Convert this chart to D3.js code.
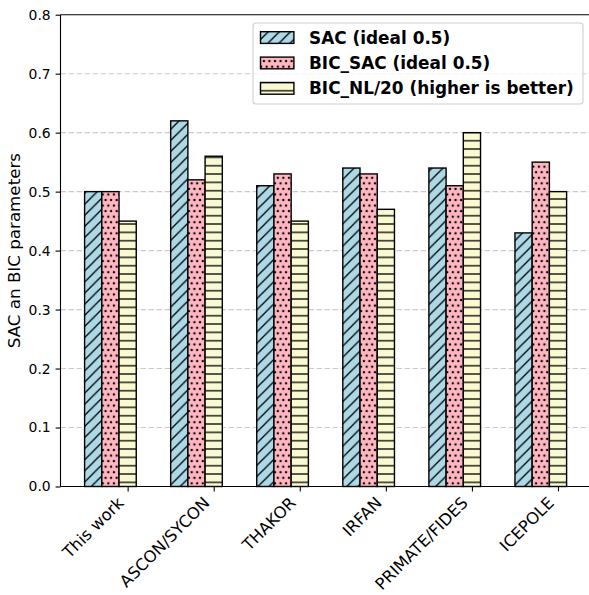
<!DOCTYPE html>
<html>
<head>
<meta charset="utf-8">
<script src="https://cdn.jsdelivr.net/npm/d3@7"></script>
<style>
  html, body { margin: 0; padding: 0; background: #fff; }
  svg { display: block; font-family: "DejaVu Sans", sans-serif; }
</style>
</head>
<body>
<svg id="chart" width="589" height="595"></svg>
<script>
// Schemes compared
const categories = ["This work", "ASCON/SYCON", "THAKOR", "IRFAN", "PRIMATE/FIDES", "ICEPOLE"];

// Metric series
const sacValues    = [0.50, 0.62, 0.51, 0.54, 0.54, 0.43];
const bicSacValues = [0.50, 0.52, 0.53, 0.53, 0.51, 0.55];
const bicNlValues  = [0.45, 0.56, 0.45, 0.47, 0.60, 0.50];

const seriesNames = ["SAC (ideal 0.5)", "BIC_SAC (ideal 0.5)", "BIC_NL/20 (higher is better)"];
const yTicks = [0.0, 0.1, 0.2, 0.3, 0.4, 0.5, 0.6, 0.7, 0.8];
const yLabel = "SAC an BIC parameters";

const series = [
  { name: seriesNames[0], values: sacValues,    fill: "#add8e6", pattern: "hatch-diag" },
  { name: seriesNames[1], values: bicSacValues, fill: "#ffb6c1", pattern: "hatch-dots" },
  { name: seriesNames[2], values: bicNlValues,  fill: "#fafad2", pattern: "hatch-horiz" }
];

const svg = d3.select("#chart");
const plotLeft = 60.5, plotRight = 590.7, plotTop = 14.7, plotBottom = 486.5;
const barW = 0.2;

const x = d3.scaleLinear().domain([-0.58, 5.58]).range([plotLeft, plotRight]);
const y = d3.scaleLinear().domain([0, 0.8]).range([plotBottom, plotTop]);

// Hatch patterns: "///", "...", "--"
const defs = svg.append("defs");
function makePattern(id, fill, w, h, drawFn) {
  const p = defs.append("pattern")
    .attr("id", id)
    .attr("patternUnits", "userSpaceOnUse")
    .attr("width", w).attr("height", h);
  p.append("rect").attr("width", w).attr("height", h).attr("fill", fill);
  drawFn(p, w, h);
}
const diagCell = 100 / 9;
makePattern("hatch-diag", series[0].fill, diagCell, diagCell, (p, w, h) => {
  [[-w, h, w, -h], [0, h, w, 0], [0, 2 * h, 2 * w, 0]].forEach(s => p.append("line")
    .attr("x1", s[0]).attr("y1", s[1]).attr("x2", s[2]).attr("y2", s[3])
    .attr("stroke", "#000").attr("stroke-width", 1.3));
});
const dotCell = 100 / 18;
makePattern("hatch-dots", series[1].fill, dotCell, 2 * dotCell, (p, w, h) => {
  [[0, 0], [w, 0], [0, h], [w, h], [w / 2, h / 2]].forEach(d => p.append("circle")
    .attr("cx", d[0]).attr("cy", d[1]).attr("r", 1.2).attr("fill", "#000"));
});
const lineCell = 100 / 12;
makePattern("hatch-horiz", series[2].fill, lineCell, lineCell, (p, w, h) => {
  p.append("line").attr("x1", 0).attr("x2", w).attr("y1", 7.37).attr("y2", 7.37)
    .attr("stroke", "#000").attr("stroke-width", 1.3);
});

// Grid lines
svg.append("g").selectAll("line")
  .data(yTicks.filter(t => t > 0 && t < 0.8))
  .join("line")
  .attr("x1", plotLeft).attr("x2", 589)
  .attr("y1", d => y(d)).attr("y2", d => y(d))
  .attr("stroke", "#cccccc").attr("stroke-width", 1.1)
  .attr("stroke-dasharray", "5.5,2.5");

// Bars
series.forEach((s, j) => {
  svg.append("g").selectAll("rect")
    .data(s.values)
    .join("rect")
    .attr("x", (d, i) => x(i + (j - 1) * barW - barW / 2))
    .attr("width", x(barW) - x(0))
    .attr("y", d => y(d))
    .attr("height", d => y(0) - y(d))
    .attr("fill", `url(#${s.pattern})`)
    .attr("stroke", "#000").attr("stroke-width", 1.4);
});

// Axes
const xAxis = d3.axisBottom(x)
  .tickValues(categories.map((c, i) => i + barW))
  .tickFormat("")
  .tickSize(4.9);
const gx = svg.append("g").attr("transform", `translate(0,${plotBottom})`).call(xAxis);
gx.select(".domain").remove();
gx.selectAll(".tick line").attr("stroke", "#000").attr("stroke-width", 1.1);

svg.append("g").selectAll("text")
  .data(categories)
  .join("text")
  .attr("transform", (d, i) => `translate(${x(i + barW) - 3},${504}) rotate(-45)`)
  .attr("text-anchor", "end")
  .attr("font-size", 16.3)
  .attr("fill", "#000")
  .text(d => d);

const yAxis = d3.axisLeft(y)
  .tickValues(yTicks)
  .tickFormat(d3.format(".1f"))
  .tickSize(4.9)
  .tickPadding(4.9);
const gy = svg.append("g").attr("transform", `translate(${plotLeft},0)`).call(yAxis);
gy.select(".domain").remove();
gy.selectAll(".tick line").attr("stroke", "#000").attr("stroke-width", 1.1);
gy.selectAll(".tick text").attr("font-size", 13.9).attr("fill", "#000")
  .attr("font-family", "DejaVu Sans, sans-serif");

// Spines (the right one falls just past the edge of the canvas)
const spine = svg.append("g").attr("stroke", "#000").attr("stroke-width", 1.1);
spine.append("line").attr("x1", plotLeft).attr("x2", plotLeft).attr("y1", plotTop).attr("y2", plotBottom);
spine.append("line").attr("x1", plotLeft).attr("x2", plotRight).attr("y1", plotBottom).attr("y2", plotBottom);
spine.append("line").attr("x1", plotLeft).attr("x2", plotRight).attr("y1", plotTop).attr("y2", plotTop);

// Y axis title
svg.append("text")
  .attr("transform", `translate(20,${(plotTop + plotBottom) / 2}) rotate(-90)`)
  .attr("text-anchor", "middle")
  .attr("font-size", 16.7)
  .attr("fill", "#000")
  .text(yLabel);

// Legend
const lg = svg.append("g");
lg.append("rect")
  .attr("x", 253).attr("y", 23).attr("width", 330).attr("height", 81)
  .attr("rx", 3).attr("ry", 3)
  .attr("fill", "#fff").attr("fill-opacity", 0.8)
  .attr("stroke", "#d0d0d0").attr("stroke-width", 1.1);
series.forEach((s, j) => {
  const cy = 37.5 + j * 25.4;
  lg.append("rect")
    .attr("x", 260.5).attr("y", cy - 5.8).attr("width", 33.4).attr("height", 11.7)
    .attr("fill", `url(#${s.pattern})`)
    .attr("stroke", "#000").attr("stroke-width", 1.4);
  lg.append("text")
    .attr("x", 309).attr("y", cy + 6)
    .attr("font-size", 16.9).attr("font-weight", "bold")
    .attr("fill", "#000")
    .text(s.name);
});
</script>
</body>
</html>
